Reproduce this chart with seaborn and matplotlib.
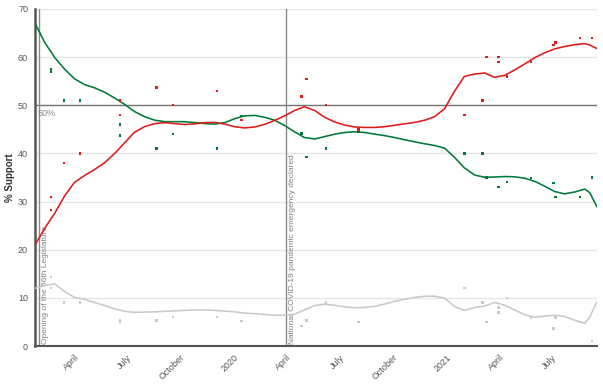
import matplotlib
matplotlib.use("Agg")
import matplotlib.pyplot as plt
import matplotlib.dates as mdates
import seaborn as sns
import numpy as np
import pandas as pd

sns.set_theme(style="white")
plt.rcParams['font.family'] = ['Liberation Sans', 'DejaVu Sans']

# polls
poll_dates = ['2019-02-20', '2019-02-20', '2019-03-15', '2019-04-11', '2019-06-19', '2019-06-19',
              '2019-08-21', '2019-09-18', '2019-12-03', '2020-01-14', '2020-04-26', '2020-05-05',
              '2020-06-07', '2020-08-02', '2021-01-31', '2021-03-03', '2021-03-10', '2021-03-31',
              '2021-03-31', '2021-04-14', '2021-05-26', '2021-07-03', '2021-07-07', '2021-08-18',
              '2021-09-07']
green_polls = [57.5, 57.0, 51.0, 51.0, 43.7, 46.0, 41.0, 44.0, 41.0, 47.8, 44.1, 39.2, 41.0, 44.5,
               40.0, 40.0, 35.0, 33.0, 33.0, 34.1, 34.9, 33.8, 31.0, 31.0, 35.0]
red_polls = [31.0, 28.2, 38.0, 40.0, 51.0, 48.0, 53.7, 50.0, 53.0, 46.9, 51.8, 55.5, 50.1, 45.0,
             48.0, 51.0, 60.0, 60.0, 59.0, 56.0, 59.0, 62.5, 63.0, 64.0, 64.0]
grey_polls = [12.0, 14.3, 9.0, 9.0, 5.3, 5.1, 5.3, 6.0, 6.0, 5.2, 4.2, 5.3, 9.0, 5.0,
              12.0, 9.0, 5.0, 7.0, 8.0, 10.0, 5.9, 3.6, 5.9, 5.0, 1.0]

# trend lines, sampled from the chart (days after 2020-01-01)
trend_days = [-342, -325, -308, -291, -274, -257, -239, -222, -205, -188, -171, -153, -136, -119,
              -102, -85, -67, -50, -33, -16, 1, 18, 36, 53, 70, 87, 104, 121, 139, 156, 173, 190,
              207, 225, 242, 259, 276, 293, 311, 328, 345, 362, 379, 396, 414, 431, 448, 465,
              482, 500, 517, 534, 551, 568, 586, 603, 612, 620, 624]
green_trend = [67.0, 63.0, 59.9, 57.5, 55.5, 54.3, 53.6, 52.7, 51.5, 50.2, 48.7, 47.6, 46.9, 46.6,
               46.6, 46.6, 46.4, 46.2, 46.1, 46.4, 47.2, 47.8, 47.9, 47.5, 46.9, 45.8, 44.5, 43.3,
               43.0, 43.5, 44.0, 44.35, 44.5, 44.35, 44.0, 43.7, 43.3, 42.85, 42.4, 42.0, 41.65,
               41.1, 39.2, 37.0, 35.5, 35.05, 35.1, 35.2, 35.15, 34.85, 34.2, 33.2, 32.1, 31.6,
               32.0, 32.6, 31.8, 29.8, 28.9]
red_trend = [21.0, 24.5, 27.6, 31.2, 34.0, 35.4, 36.7, 38.1, 40.0, 42.2, 44.4, 45.6, 46.2, 46.4,
             46.2, 46.0, 46.15, 46.4, 46.45, 46.1, 45.55, 45.3, 45.5, 46.05, 46.85, 47.8, 48.9,
             49.7, 48.9, 47.5, 46.55, 45.9, 45.5, 45.4, 45.4, 45.55, 45.85, 46.15, 46.45, 46.9,
             47.65, 49.3, 52.9, 56.0, 56.5, 56.7, 55.8, 56.2, 57.3, 58.6, 59.9, 60.9, 61.7, 62.2,
             62.6, 62.8, 62.5, 62.0, 61.8]
grey_trend = [12.0, 12.6, 12.9, 11.3, 10.1, 9.7, 9.0, 8.4, 7.7, 7.2, 7.0, 7.05, 7.1, 7.2, 7.3,
              7.4, 7.5, 7.5, 7.4, 7.25, 7.1, 6.85, 6.7, 6.55, 6.4, 6.4, 6.6, 7.5, 8.4, 8.7, 8.45,
              8.15, 7.95, 8.0, 8.25, 8.7, 9.3, 9.7, 10.1, 10.35, 10.35, 9.95, 8.2, 7.4, 8.0, 8.3,
              9.05, 8.5, 7.5, 6.5, 6.0, 6.2, 6.4, 6.15, 5.35, 4.7, 6.1, 8.2, 9.2]

events = [('2019-01-31', 'Opening of the 56th Legislature'),
          ('2020-03-31', 'National COVID-19 pandemic emergency declared')]
month_ticks = ['2019-04-01', '2019-07-01', '2019-10-01', '2020-01-01', '2020-04-01', '2020-07-01',
               '2020-10-01', '2021-01-01', '2021-04-01', '2021-07-01']
month_labels = ['April', 'July', 'October', '2020', 'April', 'July', 'October', '2021', 'April', 'July']

colors = {'green': '#00793a', 'red': '#e01b1b', 'grey': '#c9c9c9'}

polls = pd.DataFrame({'date': pd.to_datetime(poll_dates), 'green': green_polls,
                      'red': red_polls, 'grey': grey_polls})
polls = polls.melt(id_vars='date', var_name='series', value_name='support')
base = pd.Timestamp('2020-01-01')
trend = pd.DataFrame({'date': base + pd.to_timedelta(trend_days, unit='D'), 'green': green_trend,
                      'red': red_trend, 'grey': grey_trend})
trend = trend.melt(id_vars='date', var_name='series', value_name='support')

fig = plt.figure(figsize=(6.03, 3.84), dpi=100)
ax = fig.add_axes([35 / 603, 1 - 346 / 384, 562 / 603, 337 / 384])

x_start, x_end = pd.Timestamp('2019-01-24'), pd.Timestamp('2021-09-16')
ax.set_ylim(0, 70)
ax.set_xlim(x_start, x_end)
ax.set_yticks(range(0, 71, 10))
ax.yaxis.grid(True, color='#e6e6e6', lw=1)
ax.set_axisbelow(True)

ax.axhline(50, color='#777777', lw=1, zorder=1)
ax.annotate('50%', xy=(0.004, 50), xycoords=('axes fraction', 'data'), xytext=(0, -3),
            textcoords='offset points', va='top', ha='left', fontsize=6.5, color='#888888')

for d, label in events:
    ax.axvline(pd.Timestamp(d), color='#8a8a8a', lw=1, zorder=1)
    ax.annotate(label, xy=(pd.Timestamp(d), 0.4), xytext=(2, 0), textcoords='offset points',
                rotation=90, ha='left', va='bottom', fontsize=6, color='#808080')

sns.lineplot(data=trend, x='date', y='support', hue='series', palette=colors, lw=1.15,
             legend=False, ax=ax, zorder=3)
sns.scatterplot(data=polls, x='date', y='support', hue='series', palette=colors, marker='s',
                s=3, linewidth=0, legend=False, ax=ax, zorder=4)

ax.set_xticks(pd.to_datetime(month_ticks))
ax.set_xticklabels(month_labels, rotation=45, ha='right', rotation_mode='anchor')
ax.set_xticks([mdates.date2num(x_start), mdates.date2num(x_end)], minor=True)
ax.tick_params(axis='both', which='both', direction='out', color='#555555', labelcolor='#555555',
               labelsize=6.5, length=3, width=1, pad=2)

for side in ['top', 'right']:
    ax.spines[side].set_visible(False)
ax.spines['left'].set_color('#555555')
ax.spines['left'].set_linewidth(1.8)
ax.spines['bottom'].set_color('#555555')
ax.spines['bottom'].set_linewidth(1.5)

ax.set_xlabel('')
ax.set_ylabel('% Support', fontsize=7, fontweight='bold', color='#333333', labelpad=2)

fig.savefig('out.png', dpi=100)
